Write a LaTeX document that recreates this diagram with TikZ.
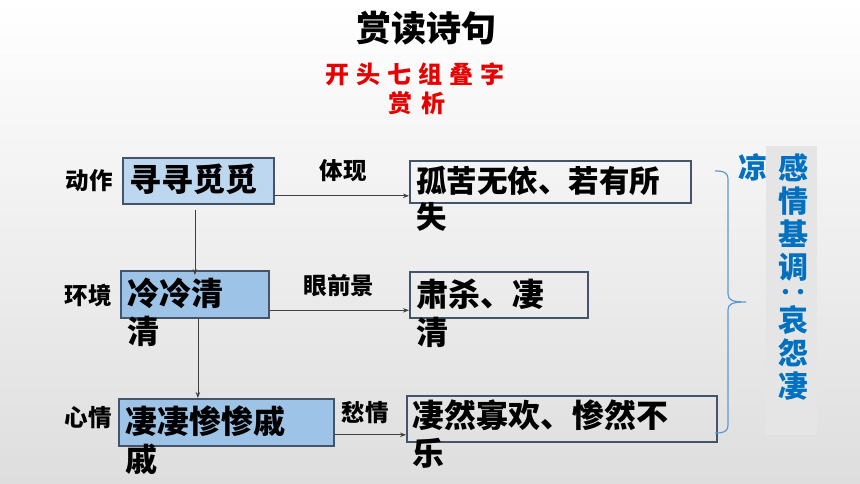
\documentclass[tikz,border=0pt]{standalone}
\usepackage{fontspec}
\setmainfont{Noto Sans CJK SC}
\usetikzlibrary{arrows.meta,calc}
\definecolor{boxA}{RGB}{189,215,238}
\definecolor{boxB}{RGB}{157,195,230}
\definecolor{edgec}{RGB}{68,84,106}
\definecolor{tblue}{RGB}{0,112,192}
\definecolor{brc}{RGB}{91,155,213}
\definecolor{tred}{RGB}{230,0,0}
\definecolor{arrc}{RGB}{64,64,64}
\definecolor{bgbot}{RGB}{222,222,222}
\definecolor{panel}{RGB}{229,229,229}
\begin{document}
\begin{tikzpicture}[x=1pt,y=-1pt,
  box/.style={draw=edgec,line width=1.8pt,inner sep=0pt,anchor=north west},
  txt/.style={inner sep=0pt,anchor=base west,align=left,font=\bfseries\fontsize{32}{38}\selectfont},
  lbl/.style={inner sep=0pt,font=\bfseries\fontsize{23.5}{26}\selectfont},
  vtxt/.style={inner sep=0pt,anchor=north,align=center,text=tblue,font=\bfseries\fontsize{30}{33}\selectfont},
  conn/.style={draw=arrc,line width=0.8pt,-{Stealth[length=6pt,width=4.5pt]}}]
\useasboundingbox (0,0) rectangle (860,484);
\shade[top color=white,bottom color=bgbot] (0,0) rectangle (860,484);
% title
\node[inner sep=0pt,font=\bfseries\fontsize{35}{40}\selectfont] (title) at (426,28) {赏读诗句};
\node[inner sep=0pt,text=tred,font=\bfseries\fontsize{24}{28}\selectfont] (sub1) at (415,74) {开\hspace{7pt}头\hspace{7pt}七\hspace{7pt}组\hspace{7pt}叠\hspace{7pt}字};
\node[inner sep=0pt,text=tred,font=\bfseries\fontsize{24}{28}\selectfont] (sub2) at (417,103) {赏\hspace{10pt}析};
% left boxes
\node[box,fill=boxA,minimum width=151pt,minimum height=46pt] (b1) at (122,157) {};
\node[box,fill=boxB,minimum width=148pt,minimum height=47pt] (b2) at (120,270) {};
\node[box,fill=boxB,minimum width=215pt,minimum height=47pt] (b3) at (118,398) {};
% right boxes
\node[box,minimum width=281pt,minimum height=42pt] (r1) at (409,160) {};
\node[box,minimum width=178pt,minimum height=46pt] (r2) at (409,271) {};
\node[box,minimum width=310pt,minimum height=46pt] (r3) at (406,395) {};
% texts (base anchor = last line)
\node[txt] (t1) at (129,192) {寻寻觅觅};
\node[txt] (t2) at (127,343) {冷冷清\\清};
\node[txt] (t3) at (125,471) {凄凄惨惨戚\\戚};
\node[txt,font=\bfseries\fontsize{30.5}{36}\selectfont] (u1) at (416,229) {孤苦无依、若有所\\失};
\node[txt] (u2) at (416,344) {肃杀、凄\\清};
\node[txt] (u3) at (412,465) {凄然寡欢、惨然不\\乐};
% side labels
\node[lbl] (l1) at (89,181) {动作};
\node[lbl] (l2) at (88,295) {环境};
\node[lbl] (l3) at (88,418) {心情};
\node[lbl] (e1) at (343,171) {体现};
\node[lbl] (e2) at (339,286) {眼前景};
\node[lbl] (e3) at (365,413) {愁情};
% connectors
\draw[conn] ([yshift=9pt]b1.south east) -- ([yshift=9pt]b1.south east -| r1.west);
\draw[conn] ([yshift=8.5pt]b2.south east) -- ([yshift=8.5pt]b2.south east -| r2.west);
\draw[conn] ([yshift=12pt]b3.south east) -- ([yshift=12pt]b3.south east -| r3.west);
\draw[conn] ([xshift=-3.5pt,yshift=-5pt]b1.south) -- ([xshift=-3.5pt,yshift=-5pt]b1.south |- b2.north);
\draw[conn] ([xshift=3pt]b2.south) -- ([xshift=3pt]b2.south |- b3.north);
% right side
\node[inner sep=0pt,anchor=north west,fill=panel,minimum width=51pt,minimum height=289pt] (pan) at (766,146) {};
\node[vtxt] (vt1) at (793,153) {感\\情\\基\\调};
\node[inner sep=0pt,anchor=base,text height=6pt,text depth=0pt,text=tblue,font=\bfseries\fontsize{30}{33}\selectfont] (colon) at (793,303) {‥};
\node[vtxt] (vt2) at (793,305) {哀\\怨\\凄};
\node[inner sep=0pt,text=tblue,font=\bfseries\fontsize{29}{33}\selectfont] (liang) at (753,167) {凉};
\coordinate (bt) at (715,171);
\coordinate (bm) at (746,302);
\coordinate (bb) at (715,433);
\draw[brc,line width=1.2pt] (bt) .. controls (724,171) and (728,172) .. (728,180) -- (728,294) .. controls (728,300) and (732,302) .. (bm) .. controls (732,302) and (728,304) .. (728,310) -- (728,424) .. controls (728,432) and (724,433) .. (bb);
\end{tikzpicture}
\end{document}
